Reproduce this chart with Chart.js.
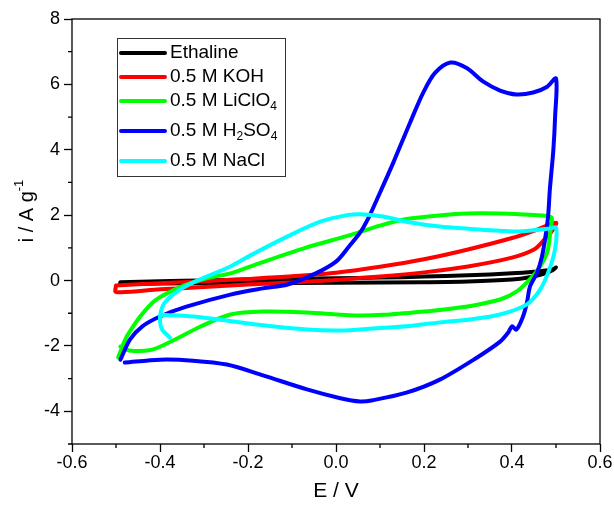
<!DOCTYPE html>
<html><head><meta charset="utf-8">
<script src="https://cdn.jsdelivr.net/npm/chart.js@4/dist/chart.umd.min.js"></script>
<style>html,body{margin:0;padding:0;background:#fff}#wrap{width:614px;height:506px}</style>
</head><body><div id="wrap"><canvas id="c" width="614" height="506"></canvas></div>
<script>
// ---- data (E in V, i in A/g) ----
const seriesNames = ['Ethaline', '0.5 M KOH', '0.5 M LiClO₄', '0.5 M H₂SO₄', '0.5 M NaCl'];
const seriesColors = ['#000000', '#ff0000', '#00ff00', '#0000ff', '#00ffff'];
const xTickLabels = ['-0.6', '-0.4', '-0.2', '0.0', '0.2', '0.4', '0.6'];
const yTickLabels = ['-4', '-2', '0', '2', '4', '6', '8'];

const ethalineE = [-0.49, -0.4, -0.3, -0.2, -0.1, 0.0, 0.1, 0.2, 0.3, 0.4, 0.45, 0.49, 0.5, 0.49, 0.47, 0.44, 0.4, 0.3, 0.2, 0.0, -0.2, -0.4, -0.49, -0.49];
const ethalineI = [-0.05, -0.02, 0.0, 0.03, 0.05, 0.07, 0.09, 0.12, 0.16, 0.22, 0.27, 0.33, 0.4, 0.3, 0.2, 0.1, 0.03, -0.03, -0.05, -0.07, -0.08, -0.09, -0.1, -0.05];

const kohE = [-0.5, -0.4, -0.3, -0.2, -0.1, 0.0, 0.1, 0.2, 0.3, 0.4, 0.45, 0.5, 0.49, 0.47, 0.45, 0.4, 0.3, 0.2, 0.1, 0.0, -0.1, -0.2, -0.3, -0.4, -0.5, -0.5];
const kohI = [-0.15, -0.08, -0.02, 0.05, 0.13, 0.24, 0.42, 0.65, 0.95, 1.3, 1.52, 1.77, 1.5, 1.2, 0.95, 0.7, 0.43, 0.25, 0.12, 0.02, -0.06, -0.12, -0.2, -0.27, -0.35, -0.15];

const liclo4E = [-0.495, -0.485, -0.475, -0.445, -0.41, -0.35, -0.29, -0.24, -0.17, -0.07, 0.03, 0.1, 0.16, 0.24, 0.3, 0.37, 0.43, 0.47, 0.49, 0.488, 0.486, 0.48, 0.464, 0.44, 0.41, 0.373, 0.305, 0.26, 0.2, 0.107, 0.03, -0.066, -0.166, -0.24, -0.31, -0.377, -0.42, -0.47, -0.49];
const liclo4I = [-2.35, -2.0, -1.7, -1.1, -0.6, -0.18, 0.08, 0.22, 0.55, 1.0, 1.38, 1.68, 1.88, 2.0, 2.05, 2.05, 2.02, 1.99, 1.93, 1.6, 1.35, 0.86, 0.43, 0.03, -0.34, -0.58, -0.78, -0.86, -0.95, -1.05, -1.06, -0.98, -0.95, -1.04, -1.42, -1.88, -2.12, -2.14, -2.02];

const h2so4E = [-0.49, -0.468, -0.44, -0.4, -0.34, -0.24, -0.166, -0.11, -0.052, 0.0, 0.03, 0.055, 0.075, 0.093, 0.13, 0.168, 0.198, 0.225, 0.26, 0.297, 0.334, 0.373, 0.41, 0.448, 0.48, 0.5,
  0.498, 0.494, 0.486, 0.482, 0.475, 0.468, 0.457, 0.441, 0.434, 0.425, 0.41, 0.4, 0.391, 0.373, 0.32, 0.236, 0.16, 0.084, 0.055, 0.01, -0.066, -0.166, -0.248, -0.325, -0.4, -0.48];
const h2so4I = [-2.42, -1.8, -1.4, -1.1, -0.8, -0.43, -0.24, -0.12, 0.18, 0.58, 1.05, 1.47, 1.95, 2.48, 3.6, 4.82, 5.74, 6.35, 6.67, 6.5, 6.09, 5.81, 5.69, 5.75, 5.93, 6.18,
  5.02, 4.0, 2.78, 1.96, 1.25, 0.73, 0.24, -0.18, -0.67, -1.1, -1.5, -1.4, -1.6, -1.87, -2.36, -3.03, -3.43, -3.66, -3.7, -3.6, -3.33, -2.9, -2.57, -2.45, -2.42, -2.51];

const naclE = [-0.377, -0.395, -0.4, -0.398, -0.389, -0.355, -0.31, -0.24, -0.19, -0.11, -0.036, 0.025, 0.055, 0.107, 0.16, 0.236, 0.305, 0.36, 0.41, 0.46, 0.486, 0.5,
  0.5, 0.494, 0.482, 0.464, 0.434, 0.373, 0.305, 0.236, 0.16, 0.084, 0.01, -0.066, -0.166, -0.264, -0.325, -0.4];
const naclI = [-1.75, -1.5, -1.25, -0.95, -0.67, -0.28, 0.03, 0.43, 0.8, 1.35, 1.8, 2.0, 2.03, 1.96, 1.8, 1.65, 1.58, 1.53, 1.5, 1.55, 1.59, 1.62,
  1.16, 0.73, 0.24, -0.28, -0.73, -1.04, -1.19, -1.28, -1.4, -1.47, -1.53, -1.5, -1.37, -1.2, -1.1, -1.05];

const seriesE = [ethalineE, kohE, liclo4E, h2so4E, naclE];
const seriesI = [ethalineI, kohI, liclo4I, h2so4I, naclI];

const FONT = "'Liberation Sans', Arial, sans-serif";

function pts(E, I) { return E.map((e, k) => ({ x: e, y: I[k] })); }

// draw text with unicode sub/superscripts rendered as small shifted glyphs
const SUB = { '₀': '0', '₁': '1', '₂': '2', '₃': '3', '₄': '4', '₅': '5', '₆': '6', '₇': '7', '₈': '8', '₉': '9' };
const SUP = { '⁻': '-', '¹': '1', '²': '2', '³': '3' };
function richParts(text) {
  const parts = [];
  for (const ch of text) {
    let kind = 'n', c = ch;
    if (SUB[ch]) { kind = 's'; c = SUB[ch]; }
    else if (SUP[ch]) { kind = 'p'; c = SUP[ch]; }
    const last = parts[parts.length - 1];
    if (last && last.kind === kind) last.t += c; else parts.push({ kind, t: c });
  }
  return parts;
}
function richWidth(ctx, text, size) {
  let w = 0;
  for (const p of richParts(text)) {
    ctx.font = (p.kind === 'n' ? size : Math.round(size * 0.65)) + 'px ' + FONT;
    w += ctx.measureText(p.t).width;
  }
  return w;
}
function drawRich(ctx, text, x, y, size) {
  ctx.textBaseline = 'middle';
  ctx.textAlign = 'left';
  for (const p of richParts(text)) {
    const s = p.kind === 'n' ? size : Math.round(size * 0.65);
    ctx.font = s + 'px ' + FONT;
    const dy = p.kind === 's' ? size * 0.32 : (p.kind === 'p' ? -size * 0.38 : 0);
    ctx.fillText(p.t, x, y + dy);
    x += ctx.measureText(p.t).width;
  }
}

const isMajorX = v => Math.abs(Math.round(v * 10)) % 2 === 0;
const isMajorY = v => Math.abs(Math.round(v)) % 2 === 0;

const decorPlugin = {
  id: 'decor',
  afterDraw(chart) {
    const ctx = chart.ctx;
    const a = chart.chartArea;
    const xs = chart.scales.x, ys = chart.scales.y;
    ctx.save();
    // frame
    ctx.strokeStyle = '#000';
    ctx.lineWidth = 1.3;
    ctx.strokeRect(a.left, a.top, a.right - a.left, a.bottom - a.top);
    // minor ticks
    ctx.beginPath();
    xs.ticks.forEach(t => {
      if (!isMajorX(t.value)) {
        const px = xs.getPixelForValue(t.value);
        ctx.moveTo(px, a.bottom); ctx.lineTo(px, a.bottom + 4);
      }
    });
    ys.ticks.forEach(t => {
      if (!isMajorY(t.value)) {
        const py = ys.getPixelForValue(t.value);
        ctx.moveTo(a.left, py); ctx.lineTo(a.left - 4, py);
      }
    });
    ctx.stroke();
    // y-axis title
    ctx.fillStyle = '#000';
    const yt = 'i / A g⁻¹';
    const w = richWidth(ctx, yt, 20);
    ctx.translate(27, 211);
    ctx.rotate(-Math.PI / 2);
    drawRich(ctx, yt, -w / 2, 0, 20);
    ctx.restore();

    // legend box
    ctx.save();
    const bx = 117, by = 38, bw = 168, bh = 138;
    const rows = [53, 77, 101, 131, 161];
    ctx.strokeStyle = '#333';
    ctx.lineWidth = 1;
    ctx.strokeRect(bx + 0.5, by + 0.5, bw, bh);
    chart.data.datasets.forEach((ds, k) => {
      const ly = rows[k];
      ctx.strokeStyle = ds.borderColor;
      ctx.lineWidth = 4;
      ctx.lineCap = 'round';
      ctx.beginPath(); ctx.moveTo(121, ly); ctx.lineTo(165, ly); ctx.stroke();
      ctx.fillStyle = '#000';
      drawRich(ctx, ds.label, 170, ly, 19);
    });
    ctx.restore();
  }
};

const datasets = seriesNames.map((name, k) => ({
  label: name,
  data: pts(seriesE[k], seriesI[k]),
  borderColor: seriesColors[k],
  backgroundColor: seriesColors[k],
  borderWidth: 4,
  pointRadius: 0,
  tension: 0.3,
  fill: false,
  borderCapStyle: 'round',
  borderJoinStyle: 'round',
  order: 5 - k
}));

new Chart(document.getElementById('c'), {
  type: 'scatter',
  data: { datasets },
  options: {
    responsive: false,
    devicePixelRatio: 1,
    animation: false,
    showLine: true,
    layout: { padding: { top: 19, right: 14, left: 0, bottom: 0 } },
    plugins: { legend: { display: false }, tooltip: { enabled: false } },
    scales: {
      x: {
        type: 'linear', min: -0.6, max: 0.6,
        afterFit: s => { s.height = 62; },
        ticks: {
          stepSize: 0.1, autoSkip: false, maxRotation: 0, padding: 0,
          color: '#000', font: { family: FONT, size: 18 },
          callback: v => isMajorX(v) ? xTickLabels[Math.round((v + 0.6) * 5)] : ''
        },
        grid: {
          drawOnChartArea: false, drawTicks: true, tickLength: 8, tickWidth: 1.3,
          tickColor: c => (c.tick && isMajorX(c.tick.value)) ? '#000' : 'rgba(0,0,0,0)'
        },
        border: { display: false },
        title: { display: true, text: 'E / V', color: '#000', font: { family: FONT, size: 21 }, padding: { top: 0, bottom: 2 } }
      },
      y: {
        type: 'linear', min: -5, max: 8,
        afterFit: s => { s.width = 72; },
        ticks: {
          stepSize: 1, autoSkip: false, padding: 4,
          color: '#000', font: { family: FONT, size: 18 },
          callback: v => isMajorY(v) ? yTickLabels[Math.round((v + 4) / 2)] : ''
        },
        grid: {
          drawOnChartArea: false, drawTicks: true, tickLength: 8, tickWidth: 1.3,
          tickColor: c => (c.tick && isMajorY(c.tick.value)) ? '#000' : 'rgba(0,0,0,0)'
        },
        border: { display: false }
      }
    }
  },
  plugins: [decorPlugin]
});
</script>
</body></html>
